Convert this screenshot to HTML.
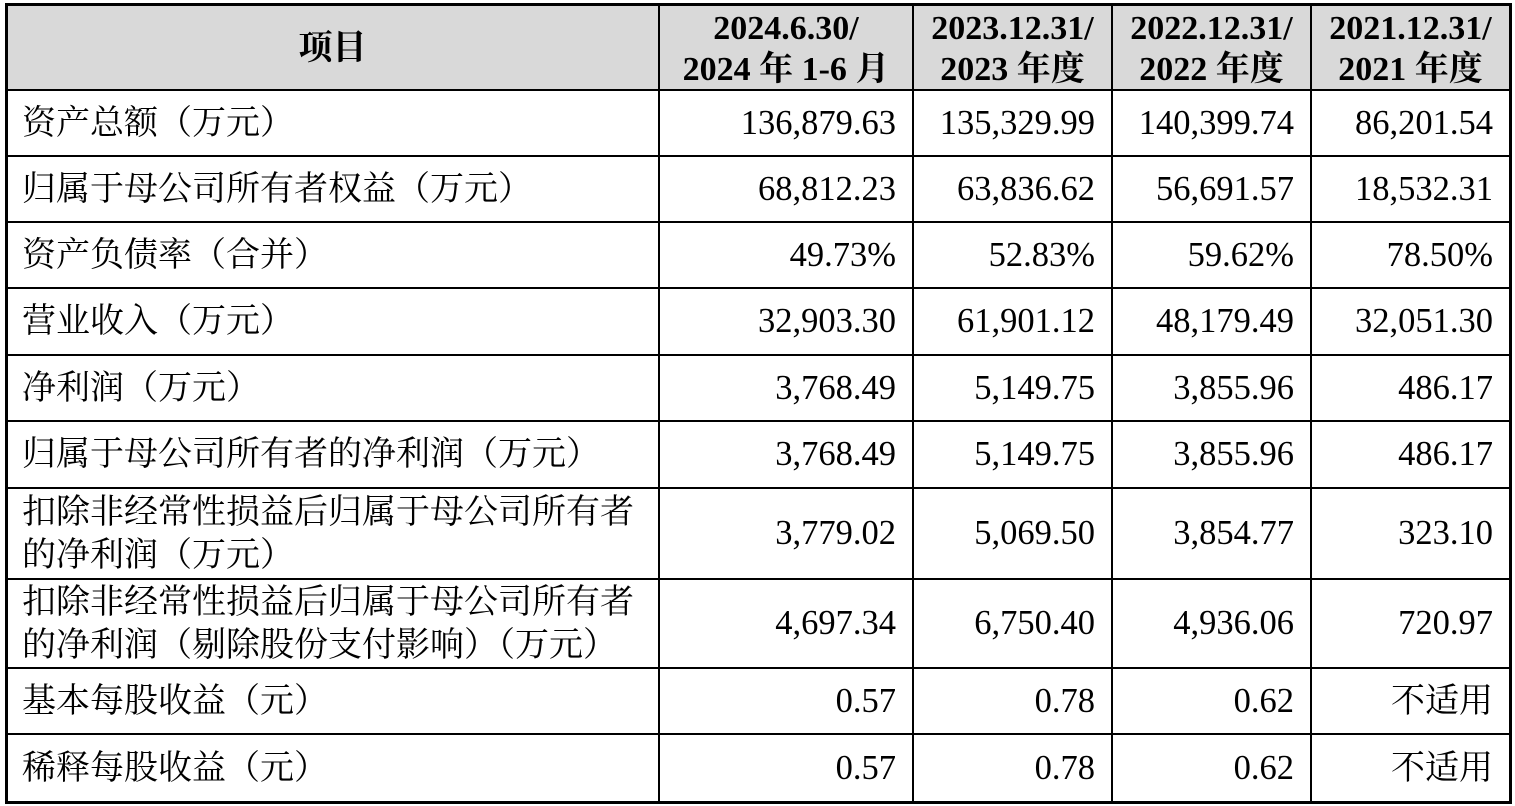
<!DOCTYPE html>
<html><head><meta charset="utf-8"><style>
body{margin:0;width:1515px;height:806px;background:#fff;position:relative;overflow:hidden;font-family:"Liberation Serif","Noto Serif CJK SC",serif;color:#000}
.c{position:absolute;display:flex;align-items:center;box-sizing:border-box;font-size:34px;line-height:43px;white-space:nowrap}
.l{justify-content:flex-start;padding-left:16px}
.r{justify-content:flex-end;padding-right:17px;font-size:34.5px}
.r.cj{font-size:34px}
.h{justify-content:center;text-align:center;font-weight:bold;font-size:34px;line-height:41px;padding-top:3px}
.hl,.vl{position:absolute;background:#000}
</style></head><body>
<div style="position:absolute;left:6px;top:4px;width:1504px;height:86px;background:#d9d9d9"></div>
<div id="t"></div>
<script>
var R=[4,90,156,222,288,355,421,488,579,668,734,802];
var C=[6,659,913,1112,1311,1510];
var H=["项目","2024.6.30/<br>2024 年 1-6 月","2023.12.31/<br>2023 年度","2022.12.31/<br>2022 年度","2021.12.31/<br>2021 年度"];
var D=[
["资产总额（万元）","136,879.63","135,329.99","140,399.74","86,201.54"],
["归属于母公司所有者权益（万元）","68,812.23","63,836.62","56,691.57","18,532.31"],
["资产负债率（合并）","49.73%","52.83%","59.62%","78.50%"],
["营业收入（万元）","32,903.30","61,901.12","48,179.49","32,051.30"],
["净利润（万元）","3,768.49","5,149.75","3,855.96","486.17"],
["归属于母公司所有者的净利润（万元）","3,768.49","5,149.75","3,855.96","486.17"],
["扣除非经常性损益后归属于母公司所有者<br>的净利润（万元）","3,779.02","5,069.50","3,854.77","323.10"],
["扣除非经常性损益后归属于母公司所有者<br>的净利润（剔除股份支付影响）（万元）","4,697.34","6,750.40","4,936.06","720.97"],
["基本每股收益（元）","0.57","0.78","0.62","不适用"],
["稀释每股收益（元）","0.57","0.78","0.62","不适用"]];
var s="";
function cell(cls,x0,x1,y0,y1,txt){return '<div class="c '+cls+'" style="left:'+x0+'px;top:'+y0+'px;width:'+(x1-x0)+'px;height:'+(y1-y0)+'px"><div>'+txt+'</div></div>';}
for(var j=0;j<5;j++)s+=cell("h",C[j],C[j+1],R[0],R[1],H[j]);
for(var i=0;i<D.length;i++)for(var j=0;j<5;j++)s+=cell(j?("r"+(D[i][j]=="不适用"?" cj":"")):"l",C[j],C[j+1],R[i+1],R[i+2],D[i][j]);
for(var i=0;i<R.length;i++){var w=(i==0||i==R.length-1)?3:2;s+='<div class="hl" style="left:'+(C[0]-1)+'px;top:'+(R[i]-1)+'px;width:'+(C[5]-C[0]+3)+'px;height:'+w+'px"></div>';}
for(var j=0;j<C.length;j++){var w=(j==0||j==C.length-1)?3:2;s+='<div class="vl" style="left:'+(C[j]-1)+'px;top:'+(R[0]-1)+'px;width:'+w+'px;height:'+(R[R.length-1]-R[0]+3)+'px"></div>';}
document.getElementById("t").innerHTML=s;
</script>
</body></html>
